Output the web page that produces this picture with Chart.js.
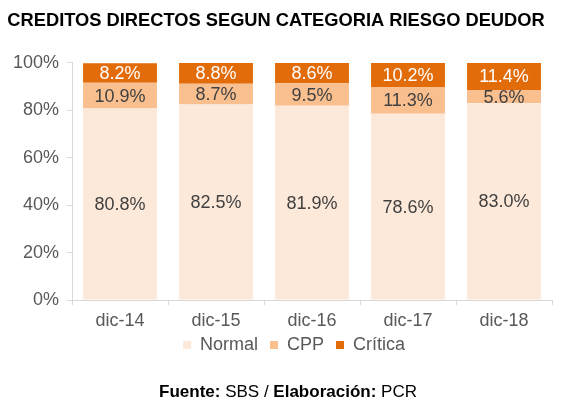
<!DOCTYPE html>
<html>
<head>
<meta charset="utf-8">
<script src="https://cdn.jsdelivr.net/npm/chart.js@4"></script>
<style>
  html, body { margin: 0; padding: 0; background: #fff; }
  #wrap { width: 561px; height: 401px; position: relative; }
</style>
</head>
<body>
<div id="wrap"><canvas id="chart"></canvas></div>
<script>
const categories = ['dic-14', 'dic-15', 'dic-16', 'dic-17', 'dic-18'];
const normal = [80.8, 82.5, 81.9, 78.6, 83.0];
const cpp = [10.9, 8.7, 9.5, 11.3, 5.6];
const critica = [8.2, 8.8, 8.6, 10.2, 11.4];
const yTicks = [0, 20, 40, 60, 80, 100];

const FONT = "'Liberation Sans', Arial, sans-serif";

// labels centred on each stacked segment
const segmentLabels = {
    id: 'segmentLabels',
    afterDatasetsDraw(chart) {
        const ctx = chart.ctx;
        ctx.save();
        ctx.font = '18px ' + FONT;
        ctx.textAlign = 'center';
        ctx.textBaseline = 'middle';
        chart.data.datasets.forEach((ds, i) => {
            const meta = chart.getDatasetMeta(i);
            meta.data.forEach((bar, j) => {
                const y = (bar.y + bar.base) / 2;
                ctx.fillStyle = ds.labelColor;
                ctx.fillText(ds.data[j].toFixed(1) + '%', bar.x, y + 1);
            });
        });
        ctx.restore();
    }
};

// nudge the legend a bit up and to the right, like the original
const legendShift = {
    id: 'legendShift',
    afterLayout(chart) {
        const lg = chart.legend;
        lg.top -= 6; lg.bottom -= 6;
        lg.left += 18; lg.right += 18;
    }
};

// footer line with bold parts
const footer = {
    id: 'footer',
    afterDraw(chart) {
        const ctx = chart.ctx;
        const parts = [
            ['bold', 'Fuente:'], ['normal', ' SBS / '],
            ['bold', 'Elaboración:'], ['normal', ' PCR']
        ];
        ctx.save();
        ctx.fillStyle = '#000';
        ctx.textBaseline = 'middle';
        let total = 0;
        parts.forEach(p => { ctx.font = p[0] + ' 17px ' + FONT; total += ctx.measureText(p[1]).width; });
        let x = 288 - total / 2;
        parts.forEach(p => {
            ctx.font = p[0] + ' 17px ' + FONT;
            ctx.fillText(p[1], x, 392);
            x += ctx.measureText(p[1]).width;
        });
        ctx.restore();
    }
};

new Chart(document.getElementById('chart'), {
    type: 'bar',
    data: {
        labels: categories,
        datasets: [
            { label: 'Normal', data: normal, backgroundColor: '#FDE9D9', labelColor: '#404040' },
            { label: 'CPP', data: cpp, backgroundColor: '#FABF8F', labelColor: '#404040' },
            { label: 'Crítica', data: critica, backgroundColor: '#E36C0A', labelColor: '#ffffff' }
        ]
    },
    options: {
        responsive: true,
        maintainAspectRatio: false,
        animation: false,
        datasets: { bar: { barPercentage: 0.77, categoryPercentage: 1 } },
        layout: { padding: { left: 0, right: 9, top: 0, bottom: 31 } },
        plugins: {
            title: {
                display: true,
                text: 'CREDITOS DIRECTOS SEGUN CATEGORIA RIESGO DEUDOR',
                color: '#000',
                font: { family: FONT, size: 18.3, weight: 'bold' },
                padding: { top: 10, bottom: 31 }
            },
            legend: {
                position: 'bottom',
                labels: {
                    color: '#595959',
                    font: { family: FONT, size: 18 },
                    boxWidth: 8,
                    boxHeight: 8,
                    padding: 12
                }
            },
            tooltip: { enabled: false }
        },
        scales: {
            x: {
                stacked: true,
                grid: { drawOnChartArea: false, color: '#d9d9d9', tickLength: 5 },
                border: { color: '#d9d9d9', width: 1 },
                ticks: { color: '#595959', font: { family: FONT, size: 18 }, padding: 5 },
                afterFit(scale) { scale.height = 30; }
            },
            y: {
                stacked: true,
                min: 0,
                max: 100,
                afterBuildTicks(axis) { axis.ticks = yTicks.map(v => ({ value: v })); },
                afterFit(scale) { scale.width = 72; },
                grid: { drawOnChartArea: false, color: '#d9d9d9', tickLength: 5 },
                border: { color: '#d9d9d9', width: 1 },
                ticks: {
                    color: '#595959',
                    font: { family: FONT, size: 18 },
                    padding: 8,
                    callback: v => v + '%'
                }
            }
        }
    },
    plugins: [segmentLabels, legendShift, footer]
});
</script>
</body>
</html>
